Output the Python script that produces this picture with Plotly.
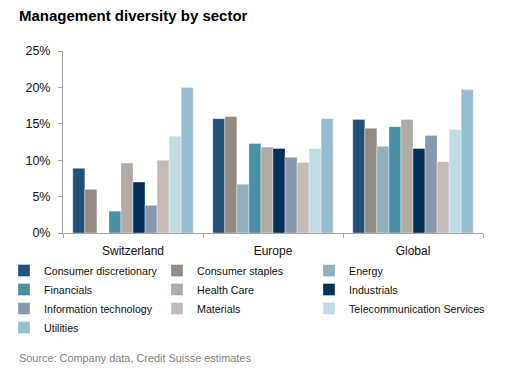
import plotly.graph_objects as go

regions = ["Switzerland", "Europe", "Global"]
sectors = ["Consumer discretionary", "Consumer staples", "Energy", "Financials",
           "Health Care", "Industrials", "Information technology", "Materials",
           "Telecommunication Services", "Utilities"]
consumer_discretionary = [8.9, 15.7, 15.6]
consumer_staples = [6.0, 16.0, 14.4]
energy = [None, 6.7, 11.9]
financials = [3.0, 12.3, 14.6]
health_care = [9.6, 11.8, 15.6]
industrials = [7.0, 11.6, 11.6]
information_technology = [3.8, 10.4, 13.4]
materials = [10.0, 9.7, 9.8]
telecommunication = [13.3, 11.6, 14.2]
utilities = [20.0, 15.7, 19.7]
series = [consumer_discretionary, consumer_staples, energy, financials, health_care,
          industrials, information_technology, materials, telecommunication, utilities]
colors = ["#215079", "#948a84", "#8fb1bc", "#4a8fa3", "#b1aba6",
          "#03305a", "#8896ae", "#c4bab6", "#c1dbe3", "#95bdd0"]
# legend column for each sector (legend laid out in three columns, row-wise)
legend_ids = ["legend", "legend2", "legend3"]

fig = go.Figure()
for i, (name, vals, col) in enumerate(zip(sectors, series, colors)):
    fig.add_trace(go.Bar(x=regions, y=vals, name=name, marker_color=col,
                         marker_line=dict(color="rgba(255,255,255,0.6)", width=0.6),
                         legend=legend_ids[i % 3]))

W, H = 514, 378
l, r, t, b = 63, 31, 51, 145
pw, ph = W - l - r, H - t - b


def px_x(x):
    return (x - l) / pw


def px_y(y):
    return 1 - (y - t) / ph


font = "Liberation Sans, Arial, sans-serif"
legend_font = dict(size=10.7, family=font, color="#111")
text_x = [44, 197, 349]


def make_legend(x_text):
    return dict(orientation="v", x=px_x(x_text - 40), xanchor="left",
                y=px_y(256), yanchor="top", itemwidth=30, traceorder="normal",
                font=legend_font, tracegroupgap=0, itemclick=False,
                bgcolor="rgba(0,0,0,0)")


fig.update_layout(
    width=W, height=H,
    margin=dict(l=l, r=r, t=t, b=b, autoexpand=False),
    paper_bgcolor="white", plot_bgcolor="white",
    barmode="group", bargap=0.14, bargroupgap=0,
    font=dict(family=font, size=12, color="#111"),
    showlegend=True,
    legend=make_legend(text_x[0]),
    legend2=make_legend(text_x[1]),
    legend3=make_legend(text_x[2]),
    annotations=[
        dict(text="<b>Management diversity by sector</b>", x=px_x(17), y=px_y(15),
             xref="paper", yref="paper", showarrow=False,
             font=dict(size=15, family=font, color="#000"), xanchor="left", yanchor="middle"),
        dict(text="Source: Company data, Credit Suisse estimates", x=px_x(17), y=px_y(358),
             xref="paper", yref="paper", showarrow=False,
             font=dict(size=10.9, family=font, color="#7f7f7f"), xanchor="left", yanchor="middle"),
    ],
)

fig.update_yaxes(range=[0, 25], dtick=5, ticksuffix="%", showgrid=False, zeroline=False,
                 showline=True, linecolor="#a6a6a6", linewidth=1, ticks="outside",
                 ticklen=4, tickcolor="#a6a6a6", ticklabelstandoff=5,
                 tickfont=dict(size=12.5, color="#111"))
fig.update_xaxes(showgrid=False, showline=True, linecolor="#a6a6a6", linewidth=1,
                 ticks="outside", tickson="boundaries", ticklen=4, tickcolor="#a6a6a6",
                 ticklabelstandoff=7, tickfont=dict(size=12, color="#111"))

fig.write_html("out.html", config={"displayModeBar": False},
               post_script="document.body.style.margin='0';")
